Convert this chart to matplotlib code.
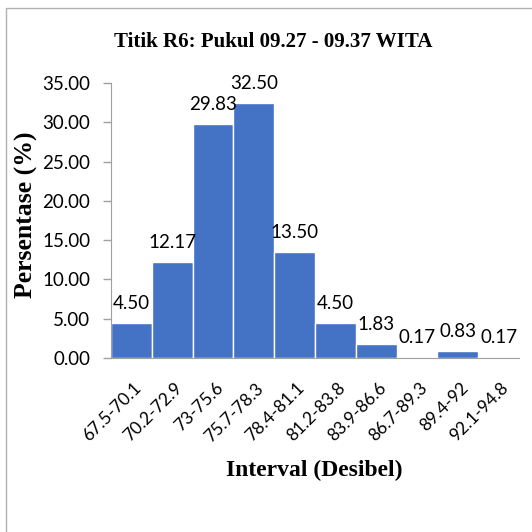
import matplotlib
matplotlib.use("Agg")
import matplotlib.pyplot as plt
from matplotlib.patches import Rectangle
from matplotlib.transforms import ScaledTranslation

categories = ["67.5-70.1", "70.2-72.9", "73-75.6", "75.7-78.3", "78.4-81.1",
              "81.2-83.8", "83.9-86.6", "86.7-89.3", "89.4-92", "92.1-94.8"]
values = [4.50, 12.17, 29.83, 32.50, 13.50, 4.50, 1.83, 0.17, 0.83, 0.17]
yticks = [0, 5, 10, 15, 20, 25, 30, 35]

fig = plt.figure(figsize=(5.32, 5.32), dpi=100)
fig.patches.append(Rectangle((6/532, -0.1), 1.2, 1 - 8/532 + 0.1, transform=fig.transFigure,
                             fill=False, edgecolor="#b0b0b0", linewidth=1.0))
ax = fig.add_axes([111/532, 1 - 358/532, (519 - 111)/532, (358 - 83)/532])

x = list(range(len(categories)))
bars = ax.bar(x, values, width=1.0, color="#4472C4", edgecolor="white", linewidth=1.0)
ax.set_xlim(-0.5, len(categories) - 0.5)
ax.set_ylim(0, 35)
ax.set_yticks(yticks)
ax.set_yticklabels([f"{v:.2f}" for v in yticks], fontsize=13.5, family="Lato")
ax.set_xticks(x)
ax.set_xticklabels([])
ax.tick_params(axis="x", length=0)
ax.tick_params(axis="y", length=6, color="#a0a0a0", width=1, pad=9)
for s in ["top", "right"]:
    ax.spines[s].set_visible(False)
ax.spines["left"].set_color("#a0a0a0")
ax.spines["bottom"].set_color("#a0a0a0")

off = ScaledTranslation(2/100, -22/100, fig.dpi_scale_trans)
for xi, c in zip(x, categories):
    ax.text(xi, 0, c, transform=ax.get_xaxis_transform() + off, rotation=45,
            ha="right", va="top", rotation_mode="anchor", fontsize=12.5, family="Lato")

for xi, v in zip(x, values):
    ax.annotate(f"{v:.2f}", (xi, v), xytext=(0, 8), textcoords="offset points",
                ha="center", va="bottom", fontsize=13.5, family="Lato")

fig.text(273/532, 1 - 42/532, "Titik R6: Pukul 09.27 - 09.37 WITA", ha="center", va="center",
         fontsize=15, fontweight="bold", family="Liberation Serif")
fig.text(26/532, 1 - 215/532, "Persentase (%)", ha="center", va="center", rotation=90,
         fontsize=18.5, fontweight="bold", family="Liberation Serif")
fig.text(314/532, 1 - 470/532, "Interval (Desibel)", ha="center", va="center",
         fontsize=17, fontweight="bold", family="Liberation Serif")

fig.savefig("out.png", dpi=100)
